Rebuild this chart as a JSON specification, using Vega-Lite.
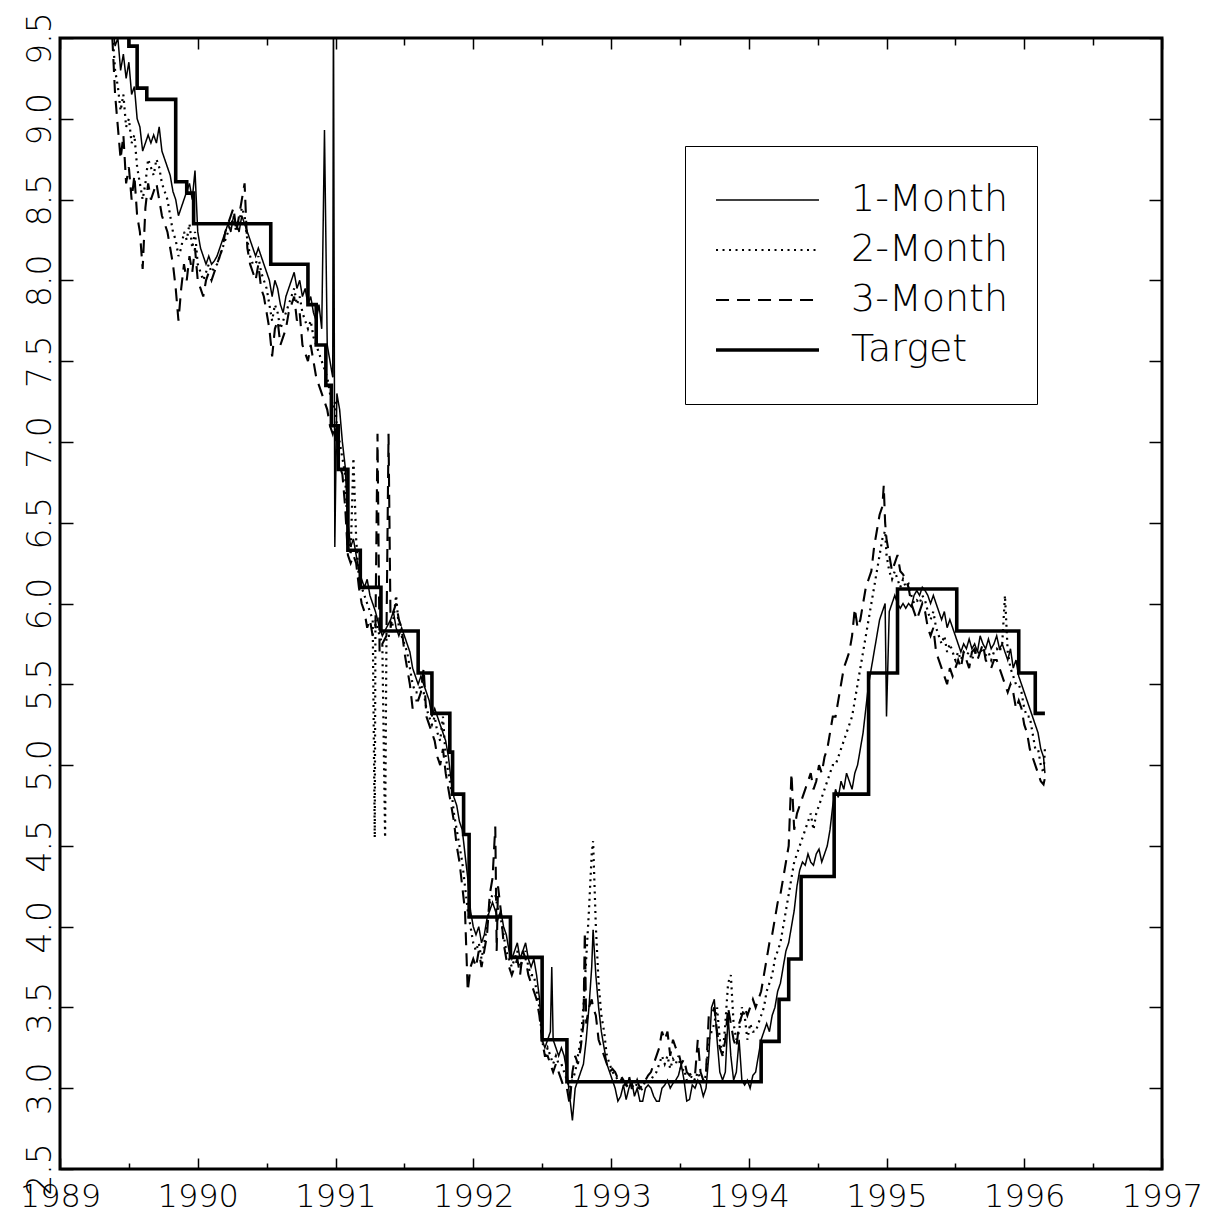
{
  "$schema": "https://vega.github.io/schema/vega-lite/v6.json",
  "width": 1102,
  "height": 1131,
  "autosize": {"type": "none"},
  "padding": {"left": 60, "top": 38, "right": 52, "bottom": 58},
  "background": "white",
  "config": {
    "view": {"stroke": "black", "strokeWidth": 3},
    "axis": {"domain": false, "grid": false, "tickColor": "black", "tickWidth": 1.5, "labelColor": "black", "labelFont": "DejaVu Sans", "labelFontWeight": 300, "title": null, "labelFlush": false, "labelOverlap": false}
  },
  "datasets": {
    "fut": [
      {"t":1989.38,"1-Month":9.6,"2-Month":9.55,"3-Month":9.5},
      {"t":1989.40,"1-Month":9.45,"2-Month":9.3,"3-Month":9.15},
      {"t":1989.42,"1-Month":9.5,"2-Month":9.2,"3-Month":8.95},
      {"t":1989.44,"1-Month":9.3,"2-Month":9.05,"3-Month":8.75},
      {"t":1989.46,"1-Month":9.4,"2-Month":9.15,"3-Month":8.9},
      {"t":1989.48,"1-Month":9.25,"2-Month":8.95,"3-Month":8.6},
      {"t":1989.50,"1-Month":9.35,"2-Month":9.0,"3-Month":8.7},
      {"t":1989.52,"1-Month":9.15,"2-Month":8.85,"3-Month":8.5},
      {"t":1989.54,"1-Month":9.2,"2-Month":8.9,"3-Month":8.65},
      {"t":1989.56,"1-Month":9.0,"2-Month":8.7,"3-Month":8.4},
      {"t":1989.58,"1-Month":8.95,"2-Month":8.6,"3-Month":8.3},
      {"t":1989.60,"1-Month":8.8,"2-Month":8.5,"3-Month":8.07},
      {"t":1989.62,"1-Month":8.85,"2-Month":8.6,"3-Month":8.45},
      {"t":1989.64,"1-Month":8.9,"2-Month":8.75,"3-Month":8.6},
      {"t":1989.66,"1-Month":8.85,"2-Month":8.7,"3-Month":8.5},
      {"t":1989.68,"1-Month":8.9,"2-Month":8.65,"3-Month":8.55},
      {"t":1989.70,"1-Month":8.85,"2-Month":8.75,"3-Month":8.6},
      {"t":1989.72,"1-Month":8.95,"2-Month":8.7,"3-Month":8.5},
      {"t":1989.74,"1-Month":8.8,"2-Month":8.6,"3-Month":8.4},
      {"t":1989.76,"1-Month":8.75,"2-Month":8.55,"3-Month":8.35},
      {"t":1989.78,"1-Month":8.7,"2-Month":8.5,"3-Month":8.3},
      {"t":1989.80,"1-Month":8.65,"2-Month":8.4,"3-Month":8.2},
      {"t":1989.82,"1-Month":8.55,"2-Month":8.3,"3-Month":8.1},
      {"t":1989.84,"1-Month":8.5,"2-Month":8.25,"3-Month":7.95},
      {"t":1989.86,"1-Month":8.4,"2-Month":8.15,"3-Month":7.75},
      {"t":1989.88,"1-Month":8.45,"2-Month":8.2,"3-Month":7.95},
      {"t":1989.90,"1-Month":8.5,"2-Month":8.3,"3-Month":8.1},
      {"t":1989.92,"1-Month":8.55,"2-Month":8.25,"3-Month":8.0},
      {"t":1989.94,"1-Month":8.6,"2-Month":8.35,"3-Month":8.15},
      {"t":1989.96,"1-Month":8.5,"2-Month":8.2,"3-Month":8.05},
      {"t":1989.98,"1-Month":8.68,"2-Month":8.3,"3-Month":8.2},
      {"t":1990.00,"1-Month":8.3,"2-Month":8.1,"3-Month":8.0},
      {"t":1990.02,"1-Month":8.2,"2-Month":8.05,"3-Month":7.95},
      {"t":1990.04,"1-Month":8.15,"2-Month":8.0,"3-Month":7.9},
      {"t":1990.06,"1-Month":8.1,"2-Month":8.05,"3-Month":8.0},
      {"t":1990.08,"1-Month":8.15,"2-Month":8.1,"3-Month":8.05},
      {"t":1990.10,"1-Month":8.1,"2-Month":8.05,"3-Month":8.0},
      {"t":1990.12,"1-Month":8.12,"2-Month":8.08,"3-Month":8.05},
      {"t":1990.14,"1-Month":8.15,"2-Month":8.1,"3-Month":8.1},
      {"t":1990.16,"1-Month":8.2,"2-Month":8.15,"3-Month":8.15},
      {"t":1990.18,"1-Month":8.25,"2-Month":8.2,"3-Month":8.2},
      {"t":1990.20,"1-Month":8.3,"2-Month":8.25,"3-Month":8.3},
      {"t":1990.22,"1-Month":8.35,"2-Month":8.3,"3-Month":8.35},
      {"t":1990.24,"1-Month":8.3,"2-Month":8.35,"3-Month":8.4},
      {"t":1990.26,"1-Month":8.4,"2-Month":8.38,"3-Month":8.45},
      {"t":1990.28,"1-Month":8.35,"2-Month":8.3,"3-Month":8.3},
      {"t":1990.30,"1-Month":8.3,"2-Month":8.35,"3-Month":8.4},
      {"t":1990.32,"1-Month":8.4,"2-Month":8.45,"3-Month":8.5},
      {"t":1990.34,"1-Month":8.35,"2-Month":8.4,"3-Month":8.6},
      {"t":1990.36,"1-Month":8.3,"2-Month":8.25,"3-Month":8.2},
      {"t":1990.38,"1-Month":8.25,"2-Month":8.15,"3-Month":8.1},
      {"t":1990.40,"1-Month":8.2,"2-Month":8.1,"3-Month":8.05},
      {"t":1990.42,"1-Month":8.15,"2-Month":8.1,"3-Month":8.0},
      {"t":1990.44,"1-Month":8.2,"2-Month":8.15,"3-Month":8.1},
      {"t":1990.46,"1-Month":8.15,"2-Month":8.05,"3-Month":7.95},
      {"t":1990.48,"1-Month":8.1,"2-Month":8.0,"3-Month":7.9},
      {"t":1990.50,"1-Month":8.05,"2-Month":7.95,"3-Month":7.8},
      {"t":1990.52,"1-Month":8.0,"2-Month":7.85,"3-Month":7.7},
      {"t":1990.54,"1-Month":7.9,"2-Month":7.75,"3-Month":7.53},
      {"t":1990.56,"1-Month":8.0,"2-Month":7.85,"3-Month":7.7},
      {"t":1990.58,"1-Month":7.95,"2-Month":7.8,"3-Month":7.75},
      {"t":1990.60,"1-Month":7.85,"2-Month":7.7,"3-Month":7.6},
      {"t":1990.62,"1-Month":7.8,"2-Month":7.75,"3-Month":7.65},
      {"t":1990.64,"1-Month":7.9,"2-Month":7.8,"3-Month":7.7},
      {"t":1990.66,"1-Month":7.95,"2-Month":7.85,"3-Month":7.8},
      {"t":1990.68,"1-Month":8.0,"2-Month":7.9,"3-Month":7.85},
      {"t":1990.70,"1-Month":8.05,"2-Month":7.95,"3-Month":7.9},
      {"t":1990.72,"1-Month":7.95,"2-Month":7.85,"3-Month":7.75},
      {"t":1990.74,"1-Month":8.0,"2-Month":7.9,"3-Month":7.8},
      {"t":1990.76,"1-Month":7.9,"2-Month":7.8,"3-Month":7.6},
      {"t":1990.78,"1-Month":7.95,"2-Month":7.75,"3-Month":7.55},
      {"t":1990.80,"1-Month":7.85,"2-Month":7.7,"3-Month":7.5},
      {"t":1990.82,"1-Month":7.9,"2-Month":7.75,"3-Month":7.6},
      {"t":1990.84,"1-Month":7.8,"2-Month":7.65,"3-Month":7.5},
      {"t":1990.86,"1-Month":7.75,"2-Month":7.6,"3-Month":7.4},
      {"t":1990.88,"1-Month":7.85,"2-Month":7.55,"3-Month":7.35},
      {"t":1990.90,"1-Month":7.7,"2-Month":7.5,"3-Month":7.3},
      {"t":1990.92,"1-Month":8.93,"2-Month":7.45,"3-Month":7.25},
      {"t":1990.94,"1-Month":7.6,"2-Month":7.4,"3-Month":7.2},
      {"t":1990.96,"1-Month":7.5,"2-Month":7.3,"3-Month":7.1},
      {"t":1990.98,"1-Month":7.4,"2-Month":7.2,"3-Month":7.05},
      {"t":1990.985,"1-Month":9.8},
      {"t":1990.995,"1-Month":6.35,"2-Month":7.25,"3-Month":7.1},
      {"t":1991.01,"1-Month":7.3,"2-Month":7.1,"3-Month":6.95},
      {"t":1991.03,"1-Month":7.2,"2-Month":7.0,"3-Month":6.85},
      {"t":1991.05,"1-Month":7.0,"2-Month":6.9,"3-Month":6.8},
      {"t":1991.07,"1-Month":6.85,"2-Month":6.8,"3-Month":6.6},
      {"t":1991.09,"1-Month":6.5,"2-Month":6.4,"3-Month":6.3},
      {"t":1991.11,"1-Month":6.35,"2-Month":6.3,"3-Month":6.25},
      {"t":1991.13,"1-Month":6.4,"2-Month":6.9,"3-Month":6.3},
      {"t":1991.15,"1-Month":6.3,"2-Month":6.4,"3-Month":6.25},
      {"t":1991.17,"1-Month":6.2,"2-Month":6.15,"3-Month":6.1},
      {"t":1991.19,"1-Month":6.15,"2-Month":6.1,"3-Month":6.0},
      {"t":1991.21,"1-Month":6.1,"2-Month":6.05,"3-Month":5.95},
      {"t":1991.23,"1-Month":6.15,"2-Month":6.0,"3-Month":5.85},
      {"t":1991.25,"1-Month":6.05,"2-Month":5.95,"3-Month":5.9},
      {"t":1991.27,"1-Month":6.0,"2-Month":5.9,"3-Month":5.8},
      {"t":1991.285,"2-Month":4.55},
      {"t":1991.29,"1-Month":5.95,"2-Month":5.9,"3-Month":5.85},
      {"t":1991.305,"3-Month":7.05},
      {"t":1991.32,"1-Month":5.85,"2-Month":5.8,"3-Month":5.7},
      {"t":1991.34,"1-Month":5.8,"2-Month":5.75,"3-Month":5.75},
      {"t":1991.36,"2-Month":4.55},
      {"t":1991.37,"1-Month":5.85,"2-Month":5.8,"3-Month":5.8},
      {"t":1991.385,"3-Month":7.05},
      {"t":1991.40,"1-Month":5.9,"2-Month":5.8,"3-Month":5.85},
      {"t":1991.42,"1-Month":5.95,"2-Month":5.9,"3-Month":5.95},
      {"t":1991.44,"1-Month":5.85,"2-Month":6.05,"3-Month":6.0},
      {"t":1991.46,"1-Month":5.8,"2-Month":5.85,"3-Month":5.9},
      {"t":1991.48,"1-Month":5.85,"2-Month":5.8,"3-Month":5.85},
      {"t":1991.50,"1-Month":5.8,"2-Month":5.75,"3-Month":5.7},
      {"t":1991.52,"1-Month":5.75,"2-Month":5.7,"3-Month":5.6},
      {"t":1991.54,"1-Month":5.7,"2-Month":5.6,"3-Month":5.5},
      {"t":1991.56,"1-Month":5.6,"2-Month":5.5,"3-Month":5.35},
      {"t":1991.58,"1-Month":5.55,"2-Month":5.45,"3-Month":5.4},
      {"t":1991.60,"1-Month":5.5,"2-Month":5.45,"3-Month":5.4},
      {"t":1991.62,"1-Month":5.55,"2-Month":5.5,"3-Month":5.45},
      {"t":1991.64,"1-Month":5.5,"2-Month":5.45,"3-Month":5.6},
      {"t":1991.66,"1-Month":5.45,"2-Month":5.35,"3-Month":5.3},
      {"t":1991.68,"1-Month":5.4,"2-Month":5.3,"3-Month":5.25},
      {"t":1991.70,"1-Month":5.3,"2-Month":5.25,"3-Month":5.2},
      {"t":1991.72,"1-Month":5.35,"2-Month":5.3,"3-Month":5.15},
      {"t":1991.74,"1-Month":5.3,"2-Month":5.2,"3-Month":5.05},
      {"t":1991.76,"1-Month":5.25,"2-Month":5.15,"3-Month":5.0},
      {"t":1991.78,"1-Month":5.2,"2-Month":5.3,"3-Month":5.1},
      {"t":1991.80,"1-Month":5.15,"2-Month":5.05,"3-Month":4.95},
      {"t":1991.82,"1-Month":5.05,"2-Month":4.95,"3-Month":4.85},
      {"t":1991.84,"1-Month":4.9,"2-Month":4.85,"3-Month":4.75},
      {"t":1991.86,"1-Month":4.8,"2-Month":4.7,"3-Month":4.65},
      {"t":1991.88,"1-Month":4.75,"2-Month":4.6,"3-Month":4.5},
      {"t":1991.90,"1-Month":4.65,"2-Month":4.5,"3-Month":4.4},
      {"t":1991.92,"1-Month":4.6,"2-Month":4.4,"3-Month":4.25},
      {"t":1991.94,"1-Month":4.45,"2-Month":4.25,"3-Month":4.1},
      {"t":1991.96,"1-Month":4.3,"2-Month":4.1,"3-Month":3.6},
      {"t":1991.98,"1-Month":4.1,"2-Month":4.0,"3-Month":3.75},
      {"t":1992.00,"1-Month":4.0,"2-Month":3.9,"3-Month":3.8},
      {"t":1992.02,"1-Month":3.95,"2-Month":3.85,"3-Month":3.75},
      {"t":1992.04,"1-Month":4.0,"2-Month":3.9,"3-Month":3.85},
      {"t":1992.06,"1-Month":3.9,"2-Month":3.8,"3-Month":3.75},
      {"t":1992.08,"1-Month":3.95,"2-Month":3.9,"3-Month":3.85},
      {"t":1992.10,"1-Month":4.05,"2-Month":4.0,"3-Month":3.95},
      {"t":1992.12,"1-Month":4.1,"2-Month":4.15,"3-Month":4.2},
      {"t":1992.14,"1-Month":4.15,"2-Month":4.2,"3-Month":4.3},
      {"t":1992.16,"1-Month":4.1,"2-Month":4.2,"3-Month":4.62},
      {"t":1992.17,"3-Month":3.85},
      {"t":1992.18,"1-Month":4.05,"2-Month":4.1,"3-Month":4.25},
      {"t":1992.20,"1-Month":4.1,"2-Month":4.05,"3-Month":4.1},
      {"t":1992.22,"1-Month":4.0,"2-Month":3.95,"3-Month":3.9},
      {"t":1992.24,"1-Month":3.95,"2-Month":3.85,"3-Month":3.8},
      {"t":1992.26,"1-Month":3.85,"2-Month":3.8,"3-Month":3.75},
      {"t":1992.28,"1-Month":3.8,"2-Month":3.75,"3-Month":3.7},
      {"t":1992.30,"1-Month":3.85,"2-Month":3.8,"3-Month":3.75},
      {"t":1992.32,"1-Month":3.9,"2-Month":3.85,"3-Month":3.8},
      {"t":1992.34,"1-Month":3.8,"2-Month":3.75,"3-Month":3.7},
      {"t":1992.36,"1-Month":3.85,"2-Month":3.8,"3-Month":3.85},
      {"t":1992.38,"1-Month":3.9,"2-Month":3.85,"3-Month":3.8},
      {"t":1992.40,"1-Month":3.8,"2-Month":3.75,"3-Month":3.7},
      {"t":1992.42,"1-Month":3.75,"2-Month":3.7,"3-Month":3.65},
      {"t":1992.44,"1-Month":3.8,"2-Month":3.7,"3-Month":3.6},
      {"t":1992.46,"1-Month":3.7,"2-Month":3.6,"3-Month":3.55},
      {"t":1992.48,"1-Month":3.56,"2-Month":3.5,"3-Month":3.45},
      {"t":1992.50,"1-Month":3.3,"2-Month":3.3,"3-Month":3.3},
      {"t":1992.52,"1-Month":3.25,"2-Month":3.2,"3-Month":3.2},
      {"t":1992.54,"1-Month":3.3,"2-Month":3.25,"3-Month":3.2},
      {"t":1992.56,"1-Month":3.35,"2-Month":3.2,"3-Month":3.15},
      {"t":1992.57,"1-Month":3.75},
      {"t":1992.58,"1-Month":3.3,"2-Month":3.15,"3-Month":3.1},
      {"t":1992.60,"1-Month":3.25,"2-Month":3.2,"3-Month":3.15},
      {"t":1992.62,"1-Month":3.2,"2-Month":3.15,"3-Month":3.1},
      {"t":1992.64,"1-Month":3.25,"2-Month":3.15,"3-Month":3.05},
      {"t":1992.66,"1-Month":3.2,"2-Month":3.1,"3-Month":3.0},
      {"t":1992.68,"1-Month":3.1,"2-Month":3.05,"3-Month":3.0},
      {"t":1992.70,"1-Month":2.95,"2-Month":3.0,"3-Month":2.9},
      {"t":1992.72,"1-Month":2.8,"2-Month":3.05,"3-Month":3.1},
      {"t":1992.74,"1-Month":3.0,"2-Month":3.1,"3-Month":3.2},
      {"t":1992.76,"1-Month":3.05,"2-Month":3.2,"3-Month":3.15},
      {"t":1992.78,"1-Month":3.1,"2-Month":3.3,"3-Month":3.25},
      {"t":1992.80,"1-Month":3.15,"2-Month":3.5,"3-Month":3.4},
      {"t":1992.81,"3-Month":3.97},
      {"t":1992.82,"1-Month":3.3,"2-Month":3.8,"3-Month":3.4},
      {"t":1992.84,"1-Month":3.5,"2-Month":4.1,"3-Month":3.5},
      {"t":1992.86,"1-Month":3.75,"2-Month":4.45,"3-Month":3.55},
      {"t":1992.87,"1-Month":3.98,"2-Month":4.53,"3-Month":3.5},
      {"t":1992.89,"1-Month":3.7,"2-Month":4.0,"3-Month":3.45},
      {"t":1992.91,"1-Month":3.5,"2-Month":3.65,"3-Month":3.3},
      {"t":1992.93,"1-Month":3.35,"2-Month":3.45,"3-Month":3.25},
      {"t":1992.95,"1-Month":3.25,"2-Month":3.35,"3-Month":3.2},
      {"t":1992.97,"1-Month":3.15,"2-Month":3.2,"3-Month":3.15},
      {"t":1992.99,"1-Month":3.1,"2-Month":3.15,"3-Month":3.1},
      {"t":1993.01,"1-Month":3.05,"2-Month":3.1,"3-Month":3.12},
      {"t":1993.03,"1-Month":3.0,"2-Month":3.08,"3-Month":3.1},
      {"t":1993.05,"1-Month":2.92,"2-Month":3.05,"3-Month":3.06},
      {"t":1993.07,"1-Month":2.95,"2-Month":3.06,"3-Month":3.08},
      {"t":1993.09,"1-Month":3.02,"2-Month":3.04,"3-Month":3.05},
      {"t":1993.11,"1-Month":2.93,"2-Month":3.0,"3-Month":3.02},
      {"t":1993.13,"1-Month":3.0,"2-Month":3.05,"3-Month":3.08},
      {"t":1993.15,"1-Month":3.05,"2-Month":3.02,"3-Month":3.0},
      {"t":1993.17,"1-Month":2.95,"2-Month":3.0,"3-Month":3.0},
      {"t":1993.19,"1-Month":3.0,"2-Month":3.03,"3-Month":3.05},
      {"t":1993.21,"1-Month":2.92,"2-Month":2.98,"3-Month":3.0},
      {"t":1993.23,"1-Month":2.92,"2-Month":3.0,"3-Month":3.02},
      {"t":1993.25,"1-Month":3.0,"2-Month":3.05,"3-Month":3.05},
      {"t":1993.27,"1-Month":3.02,"2-Month":3.04,"3-Month":3.08},
      {"t":1993.29,"1-Month":3.0,"2-Month":3.05,"3-Month":3.1},
      {"t":1993.31,"1-Month":2.95,"2-Month":3.08,"3-Month":3.15},
      {"t":1993.33,"1-Month":2.92,"2-Month":3.1,"3-Month":3.2},
      {"t":1993.35,"1-Month":2.92,"2-Month":3.15,"3-Month":3.25},
      {"t":1993.37,"1-Month":3.0,"2-Month":3.2,"3-Month":3.35},
      {"t":1993.39,"1-Month":3.02,"2-Month":3.15,"3-Month":3.3},
      {"t":1993.41,"1-Month":3.05,"2-Month":3.2,"3-Month":3.35},
      {"t":1993.43,"1-Month":3.0,"2-Month":3.12,"3-Month":3.2},
      {"t":1993.45,"1-Month":3.03,"2-Month":3.18,"3-Month":3.3},
      {"t":1993.47,"1-Month":3.05,"2-Month":3.15,"3-Month":3.25},
      {"t":1993.49,"1-Month":3.08,"2-Month":3.2,"3-Month":3.22},
      {"t":1993.51,"1-Month":3.15,"2-Month":3.1,"3-Month":3.15},
      {"t":1993.53,"1-Month":3.05,"2-Month":3.12,"3-Month":3.18},
      {"t":1993.55,"1-Month":2.92,"2-Month":3.05,"3-Month":3.1},
      {"t":1993.57,"1-Month":2.93,"2-Month":3.05,"3-Month":3.08},
      {"t":1993.59,"1-Month":3.02,"2-Month":3.08,"3-Month":3.1},
      {"t":1993.61,"1-Month":3.0,"2-Month":3.05,"3-Month":3.08},
      {"t":1993.63,"1-Month":3.05,"2-Month":3.1,"3-Month":3.3},
      {"t":1993.65,"1-Month":3.02,"2-Month":3.06,"3-Month":3.1},
      {"t":1993.67,"1-Month":2.95,"2-Month":3.04,"3-Month":3.05},
      {"t":1993.69,"1-Month":3.0,"2-Month":3.08,"3-Month":3.1},
      {"t":1993.71,"1-Month":3.2,"2-Month":3.3,"3-Month":3.45},
      {"t":1993.73,"1-Month":3.5,"2-Month":3.35,"3-Month":3.45},
      {"t":1993.75,"1-Month":3.55,"2-Month":3.4,"3-Month":3.5},
      {"t":1993.77,"1-Month":3.3,"2-Month":3.5,"3-Month":3.35},
      {"t":1993.79,"1-Month":3.1,"2-Month":3.3,"3-Month":3.25},
      {"t":1993.81,"1-Month":3.05,"2-Month":3.2,"3-Month":3.2},
      {"t":1993.83,"1-Month":3.1,"2-Month":3.4,"3-Month":3.3},
      {"t":1993.85,"1-Month":3.45,"2-Month":3.65,"3-Month":3.5},
      {"t":1993.87,"1-Month":3.2,"2-Month":3.7,"3-Month":3.4},
      {"t":1993.89,"1-Month":3.05,"2-Month":3.4,"3-Month":3.3},
      {"t":1993.91,"1-Month":3.1,"2-Month":3.3,"3-Month":3.25},
      {"t":1993.93,"1-Month":3.3,"2-Month":3.35,"3-Month":3.4},
      {"t":1993.95,"1-Month":3.05,"2-Month":3.5,"3-Month":3.45},
      {"t":1993.97,"1-Month":3.02,"2-Month":3.45,"3-Month":3.5},
      {"t":1993.99,"1-Month":3.05,"2-Month":3.3,"3-Month":3.45},
      {"t":1994.01,"1-Month":3.0,"2-Month":3.4,"3-Month":3.5},
      {"t":1994.03,"1-Month":3.08,"2-Month":3.35,"3-Month":3.55},
      {"t":1994.05,"1-Month":3.1,"2-Month":3.35,"3-Month":3.5},
      {"t":1994.07,"1-Month":3.2,"2-Month":3.4,"3-Month":3.55},
      {"t":1994.09,"1-Month":3.3,"2-Month":3.45,"3-Month":3.6},
      {"t":1994.11,"1-Month":3.35,"2-Month":3.5,"3-Month":3.7},
      {"t":1994.13,"1-Month":3.4,"2-Month":3.6,"3-Month":3.8},
      {"t":1994.15,"1-Month":3.35,"2-Month":3.65,"3-Month":3.9},
      {"t":1994.17,"1-Month":3.45,"2-Month":3.7,"3-Month":3.95},
      {"t":1994.19,"1-Month":3.5,"2-Month":3.8,"3-Month":4.05},
      {"t":1994.21,"1-Month":3.6,"2-Month":3.85,"3-Month":4.15},
      {"t":1994.23,"1-Month":3.65,"2-Month":3.9,"3-Month":4.2},
      {"t":1994.25,"1-Month":3.75,"2-Month":4.0,"3-Month":4.3},
      {"t":1994.27,"1-Month":3.85,"2-Month":4.1,"3-Month":4.4},
      {"t":1994.29,"1-Month":3.9,"2-Month":4.2,"3-Month":4.5},
      {"t":1994.31,"1-Month":4.0,"2-Month":4.3,"3-Month":4.95},
      {"t":1994.33,"1-Month":4.1,"2-Month":4.4,"3-Month":4.6},
      {"t":1994.35,"1-Month":4.25,"2-Month":4.45,"3-Month":4.7},
      {"t":1994.37,"1-Month":4.35,"2-Month":4.5,"3-Month":4.75},
      {"t":1994.39,"1-Month":4.4,"2-Month":4.55,"3-Month":4.8},
      {"t":1994.41,"1-Month":4.38,"2-Month":4.6,"3-Month":4.85},
      {"t":1994.43,"1-Month":4.45,"2-Month":4.65,"3-Month":4.9},
      {"t":1994.45,"1-Month":4.4,"2-Month":4.7,"3-Month":4.95},
      {"t":1994.47,"1-Month":4.38,"2-Month":4.6,"3-Month":4.85},
      {"t":1994.49,"1-Month":4.45,"2-Month":4.7,"3-Month":4.9},
      {"t":1994.51,"1-Month":4.48,"2-Month":4.75,"3-Month":5.0},
      {"t":1994.53,"1-Month":4.4,"2-Month":4.8,"3-Month":4.95},
      {"t":1994.55,"1-Month":4.45,"2-Month":4.85,"3-Month":5.05},
      {"t":1994.57,"1-Month":4.5,"2-Month":4.9,"3-Month":5.1},
      {"t":1994.59,"1-Month":4.6,"2-Month":4.95,"3-Month":5.2},
      {"t":1994.61,"1-Month":4.75,"2-Month":5.0,"3-Month":5.3},
      {"t":1994.63,"1-Month":4.85,"2-Month":5.0,"3-Month":5.3},
      {"t":1994.65,"1-Month":4.8,"2-Month":5.05,"3-Month":5.4},
      {"t":1994.67,"1-Month":4.9,"2-Month":5.1,"3-Month":5.5},
      {"t":1994.69,"1-Month":4.85,"2-Month":5.15,"3-Month":5.6},
      {"t":1994.71,"1-Month":4.95,"2-Month":5.2,"3-Month":5.65},
      {"t":1994.73,"1-Month":4.9,"2-Month":5.25,"3-Month":5.7},
      {"t":1994.75,"1-Month":4.85,"2-Month":5.3,"3-Month":5.8},
      {"t":1994.77,"1-Month":4.95,"2-Month":5.4,"3-Month":5.97},
      {"t":1994.79,"1-Month":5.0,"2-Month":5.5,"3-Month":5.85},
      {"t":1994.81,"1-Month":5.1,"2-Month":5.6,"3-Month":5.9},
      {"t":1994.83,"1-Month":5.2,"2-Month":5.7,"3-Month":6.0},
      {"t":1994.85,"1-Month":5.35,"2-Month":5.8,"3-Month":6.1},
      {"t":1994.87,"1-Month":5.5,"2-Month":5.9,"3-Month":6.15},
      {"t":1994.89,"1-Month":5.6,"2-Month":6.0,"3-Month":6.2},
      {"t":1994.91,"1-Month":5.7,"2-Month":6.1,"3-Month":6.35},
      {"t":1994.93,"1-Month":5.8,"2-Month":6.2,"3-Month":6.45},
      {"t":1994.95,"1-Month":5.9,"2-Month":6.3,"3-Month":6.55},
      {"t":1994.97,"1-Month":5.95,"2-Month":6.4,"3-Month":6.6},
      {"t":1994.98,"3-Month":6.73},
      {"t":1994.99,"1-Month":6.0,"2-Month":6.45,"3-Month":6.5},
      {"t":1995.00,"1-Month":5.3,"2-Month":6.3,"3-Month":6.4},
      {"t":1995.02,"1-Month":5.95,"2-Month":6.2,"3-Month":6.3},
      {"t":1995.04,"1-Month":6.0,"2-Month":6.15,"3-Month":6.2},
      {"t":1995.06,"1-Month":6.05,"2-Month":6.2,"3-Month":6.25},
      {"t":1995.08,"1-Month":6.0,"2-Month":6.15,"3-Month":6.3},
      {"t":1995.10,"1-Month":5.97,"2-Month":6.1,"3-Month":6.2},
      {"t":1995.12,"1-Month":6.0,"2-Month":6.15,"3-Month":6.18},
      {"t":1995.14,"1-Month":5.97,"2-Month":6.1,"3-Month":6.15},
      {"t":1995.16,"1-Month":6.0,"2-Month":6.12,"3-Month":6.1},
      {"t":1995.18,"1-Month":5.98,"2-Month":6.05,"3-Month":6.0},
      {"t":1995.20,"1-Month":6.05,"2-Month":6.0,"3-Month":5.95},
      {"t":1995.22,"1-Month":6.08,"2-Month":6.02,"3-Month":5.9},
      {"t":1995.24,"1-Month":6.05,"2-Month":6.0,"3-Month":5.95},
      {"t":1995.26,"1-Month":6.1,"2-Month":6.05,"3-Month":6.0},
      {"t":1995.28,"1-Month":6.08,"2-Month":6.02,"3-Month":5.95},
      {"t":1995.30,"1-Month":6.05,"2-Month":5.95,"3-Month":5.85},
      {"t":1995.32,"1-Month":6.0,"2-Month":5.9,"3-Month":5.8},
      {"t":1995.34,"1-Month":6.05,"2-Month":5.95,"3-Month":5.85},
      {"t":1995.36,"1-Month":6.0,"2-Month":5.85,"3-Month":5.7},
      {"t":1995.38,"1-Month":5.95,"2-Month":5.8,"3-Month":5.65},
      {"t":1995.40,"1-Month":5.9,"2-Month":5.75,"3-Month":5.6},
      {"t":1995.42,"1-Month":5.95,"2-Month":5.8,"3-Month":5.55},
      {"t":1995.44,"1-Month":5.85,"2-Month":5.7,"3-Month":5.5},
      {"t":1995.46,"1-Month":5.9,"2-Month":5.75,"3-Month":5.6},
      {"t":1995.48,"1-Month":5.85,"2-Month":5.7,"3-Month":5.55},
      {"t":1995.50,"1-Month":5.8,"2-Month":5.65,"3-Month":5.6},
      {"t":1995.52,"1-Month":5.75,"2-Month":5.7,"3-Month":5.65},
      {"t":1995.54,"1-Month":5.7,"2-Month":5.65,"3-Month":5.6},
      {"t":1995.56,"1-Month":5.75,"2-Month":5.7,"3-Month":5.7},
      {"t":1995.58,"1-Month":5.72,"2-Month":5.68,"3-Month":5.65},
      {"t":1995.60,"1-Month":5.78,"2-Month":5.7,"3-Month":5.6},
      {"t":1995.62,"1-Month":5.72,"2-Month":5.65,"3-Month":5.7},
      {"t":1995.64,"1-Month":5.75,"2-Month":5.7,"3-Month":5.72},
      {"t":1995.66,"1-Month":5.7,"2-Month":5.68,"3-Month":5.65},
      {"t":1995.68,"1-Month":5.8,"2-Month":5.72,"3-Month":5.7},
      {"t":1995.70,"1-Month":5.75,"2-Month":5.7,"3-Month":5.75},
      {"t":1995.72,"1-Month":5.72,"2-Month":5.68,"3-Month":5.65},
      {"t":1995.74,"1-Month":5.78,"2-Month":5.7,"3-Month":5.62},
      {"t":1995.76,"1-Month":5.72,"2-Month":5.65,"3-Month":5.6},
      {"t":1995.78,"1-Month":5.75,"2-Month":5.7,"3-Month":5.65},
      {"t":1995.80,"1-Month":5.8,"2-Month":5.72,"3-Month":5.65},
      {"t":1995.82,"1-Month":5.72,"2-Month":5.7,"3-Month":5.6},
      {"t":1995.84,"1-Month":5.75,"2-Month":5.75,"3-Month":5.55},
      {"t":1995.86,"1-Month":5.7,"2-Month":6.05,"3-Month":5.5},
      {"t":1995.88,"1-Month":5.65,"2-Month":5.7,"3-Month":5.45},
      {"t":1995.90,"1-Month":5.72,"2-Month":5.6,"3-Month":5.5},
      {"t":1995.92,"1-Month":5.6,"2-Month":5.55,"3-Month":5.45},
      {"t":1995.94,"1-Month":5.65,"2-Month":5.5,"3-Month":5.35},
      {"t":1995.96,"1-Month":5.55,"2-Month":5.5,"3-Month":5.4},
      {"t":1995.98,"1-Month":5.5,"2-Month":5.45,"3-Month":5.35},
      {"t":1996.00,"1-Month":5.45,"2-Month":5.35,"3-Month":5.25},
      {"t":1996.02,"1-Month":5.4,"2-Month":5.3,"3-Month":5.2},
      {"t":1996.04,"1-Month":5.35,"2-Month":5.3,"3-Month":5.1},
      {"t":1996.06,"1-Month":5.3,"2-Month":5.2,"3-Month":5.05},
      {"t":1996.08,"1-Month":5.25,"2-Month":5.1,"3-Month":5.0},
      {"t":1996.10,"1-Month":5.2,"2-Month":5.1,"3-Month":4.95},
      {"t":1996.12,"1-Month":5.1,"2-Month":5.0,"3-Month":4.9},
      {"t":1996.14,"1-Month":5.05,"2-Month":4.95,"3-Month":4.88},
      {"t":1996.15,"1-Month":4.95,"2-Month":5.1,"3-Month":4.92}
    ],
    "tgt": [
      {"t":1989.45,"v":9.8,"s":"Target"},
      {"t":1989.50,"v":9.45,"s":"Target"},
      {"t":1989.56,"v":9.19,"s":"Target"},
      {"t":1989.63,"v":9.12,"s":"Target"},
      {"t":1989.84,"v":8.61,"s":"Target"},
      {"t":1989.92,"v":8.54,"s":"Target"},
      {"t":1989.97,"v":8.35,"s":"Target"},
      {"t":1990.53,"v":8.10,"s":"Target"},
      {"t":1990.80,"v":7.85,"s":"Target"},
      {"t":1990.86,"v":7.60,"s":"Target"},
      {"t":1990.93,"v":7.35,"s":"Target"},
      {"t":1990.97,"v":7.10,"s":"Target"},
      {"t":1991.02,"v":6.83,"s":"Target"},
      {"t":1991.09,"v":6.33,"s":"Target"},
      {"t":1991.18,"v":6.10,"s":"Target"},
      {"t":1991.33,"v":5.83,"s":"Target"},
      {"t":1991.60,"v":5.57,"s":"Target"},
      {"t":1991.70,"v":5.32,"s":"Target"},
      {"t":1991.83,"v":5.08,"s":"Target"},
      {"t":1991.85,"v":4.82,"s":"Target"},
      {"t":1991.93,"v":4.57,"s":"Target"},
      {"t":1991.97,"v":4.06,"s":"Target"},
      {"t":1992.27,"v":3.81,"s":"Target"},
      {"t":1992.50,"v":3.30,"s":"Target"},
      {"t":1992.68,"v":3.04,"s":"Target"},
      {"t":1994.09,"v":3.29,"s":"Target"},
      {"t":1994.22,"v":3.55,"s":"Target"},
      {"t":1994.29,"v":3.80,"s":"Target"},
      {"t":1994.38,"v":4.31,"s":"Target"},
      {"t":1994.62,"v":4.82,"s":"Target"},
      {"t":1994.87,"v":5.57,"s":"Target"},
      {"t":1995.08,"v":6.09,"s":"Target"},
      {"t":1995.51,"v":5.83,"s":"Target"},
      {"t":1995.96,"v":5.57,"s":"Target"},
      {"t":1996.08,"v":5.32,"s":"Target"},
      {"t":1996.15,"v":5.32,"s":"Target"}
    ]
  },
  "resolve": {"axis": {"x": "independent", "y": "independent"}},
  "encoding": {
    "strokeDash": {
      "field": "s", "type": "nominal",
      "scale": {"domain": ["1-Month", "2-Month", "3-Month", "Target"], "range": [[1, 0], [2, 4.5], [13, 8], [1, 0]]},
      "legend": {"title": null, "orient": "none", "legendX": 625, "legendY": 108, "symbolType": "stroke", "symbolSize": 10600, "symbolOffset": 0, "symbolStrokeColor": "black", "clipHeight": 50, "labelFontSize": 38, "labelFont": "DejaVu Sans", "labelFontWeight": 300, "labelColor": "black", "labelOffset": 30, "rowPadding": 0, "padding": 29, "strokeColor": "black", "fillColor": "white", "labelLimit": 500}
    },
    "strokeWidth": {
      "field": "s", "type": "nominal",
      "scale": {"type": "ordinal", "domain": ["1-Month", "2-Month", "3-Month", "Target"], "range": [1.5, 2.2, 2.1, 3.6]},
      "legend": {"title": null, "orient": "none", "legendX": 625, "legendY": 108, "symbolType": "stroke", "symbolSize": 10600, "symbolOffset": 0, "symbolStrokeColor": "black", "clipHeight": 50, "labelFontSize": 38, "labelFont": "DejaVu Sans", "labelFontWeight": 300, "labelColor": "black", "labelOffset": 30, "rowPadding": 0, "padding": 29, "strokeColor": "black", "fillColor": "white", "labelLimit": 500}
    }
  },
  "layer": [
    {
      "data": {"name": "fut"},
      "transform": [
        {"fold": ["1-Month", "2-Month", "3-Month"], "as": ["s", "v"]},
        {"filter": "isValid(datum.v)"}
      ],
      "mark": {"type": "line", "clip": true, "color": "black"},
      "encoding": {
        "x": {
          "field": "t", "type": "quantitative",
          "scale": {"domain": [1989, 1997], "nice": false, "zero": false},
          "axis": {
            "orient": "bottom",
            "values": [1989, 1989.5, 1990, 1990.5, 1991, 1991.5, 1992, 1992.5, 1993, 1993.5, 1994, 1994.5, 1995, 1995.5, 1996, 1996.5, 1997],
            "labelExpr": "datum.value % 1 === 0 ? '' + datum.value : ''",
            "tickSize": {"condition": {"test": "datum.value % 1 === 0", "value": -11}, "value": -6},
            "labelPadding": 23,
            "labelFontSize": 32
          }
        },
        "y": {
          "field": "v", "type": "quantitative",
          "scale": {"domain": [2.5, 9.5], "nice": false, "zero": false},
          "axis": {
            "orient": "left",
            "values": [2.5, 3, 3.5, 4, 4.5, 5, 5.5, 6, 6.5, 7, 7.5, 8, 8.5, 9, 9.5],
            "format": ".1f",
            "labelAngle": 270,
            "labelAlign": "center",
            "labelBaseline": "alphabetic",
            "tickSize": -13,
            "labelPadding": 23,
            "labelFontSize": 33
          }
        }
      }
    },
    {
      "data": {"name": "tgt"},
      "mark": {"type": "line", "clip": true, "color": "black", "interpolate": "step-after"},
      "encoding": {
        "x": {
          "field": "t", "type": "quantitative",
          "axis": {
            "orient": "top",
            "values": [1989, 1989.5, 1990, 1990.5, 1991, 1991.5, 1992, 1992.5, 1993, 1993.5, 1994, 1994.5, 1995, 1995.5, 1996, 1996.5, 1997],
            "labels": false,
            "tickSize": {"condition": {"test": "datum.value % 1 === 0", "value": -11}, "value": -7}
          }
        },
        "y": {
          "field": "v", "type": "quantitative",
          "axis": {
            "orient": "right",
            "values": [2.5, 3, 3.5, 4, 4.5, 5, 5.5, 6, 6.5, 7, 7.5, 8, 8.5, 9, 9.5],
            "labels": false,
            "tickSize": -13
          }
        }
      }
    }
  ]
}
